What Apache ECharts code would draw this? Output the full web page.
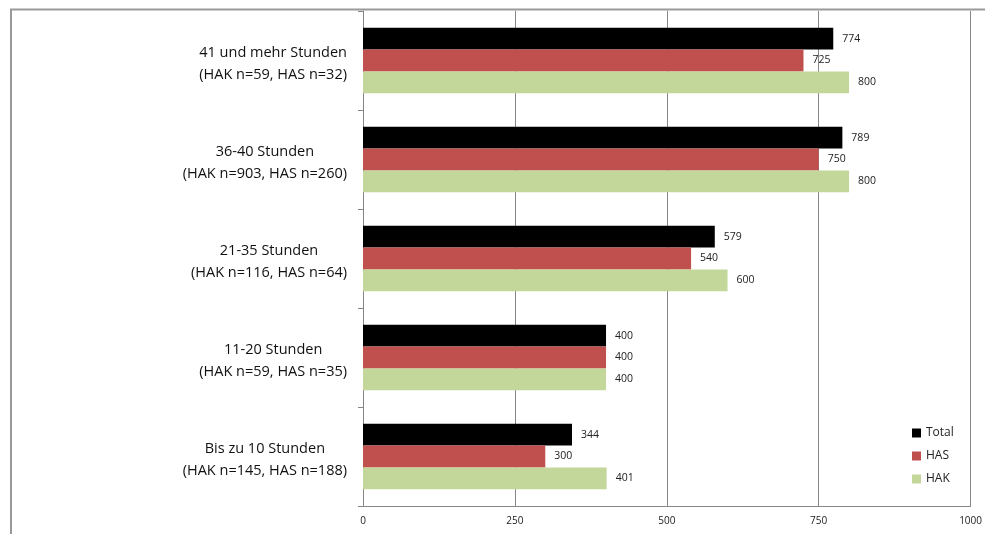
<!DOCTYPE html>
<html><head><meta charset="utf-8">
<script src="https://cdn.jsdelivr.net/npm/echarts@6/dist/echarts.min.js"></script>
<style>html,body{margin:0;padding:0;background:#fff}#c{width:985px;height:534px}</style>
</head><body><div id="c"></div>
<script>
const categories = ["Bis zu 10 Stunden\n(HAK n=145, HAS n=188)","11-20 Stunden\n(HAK n=59, HAS n=35)","21-35 Stunden\n(HAK n=116, HAS n=64)","36-40 Stunden\n(HAK n=903, HAS n=260)","41 und mehr Stunden\n(HAK n=59, HAS n=32)"];
const totalValues = [344, 400, 579, 789, 774];
const hasValues = [300, 400, 540, 750, 725];
const hakValues = [401, 400, 600, 800, 800];
const seriesNames = ["Total","HAS","HAK"];
const colors = ["#000000","#C0504D","#C4D79B"];
const chart = echarts.init(document.getElementById('c'));
const lbl = {show:true, position:'right', distance:9, fontSize:10.5, color:'#222', fontFamily:'Open Sans'};
chart.setOption({
  animation:false,
  graphic:[{type:'polyline', shape:{points:[[11,540],[11,9.5],[990,9.5]]}, style:{stroke:'#999',lineWidth:2,fill:null}}],
  grid:{left:363,right:14,top:11,bottom:28},
  legend:{orient:'vertical',left:907,top:422,itemWidth:9,itemHeight:9,itemGap:11,icon:'rect',
    textStyle:{fontSize:12,color:'#222',fontFamily:'Open Sans'},data:seriesNames},
  xAxis:{type:'value',min:0,max:1000,interval:250,
    axisLine:{show:true,lineStyle:{color:'#868686'}},axisTick:{show:false},
    splitLine:{lineStyle:{color:'#868686'}},
    axisLabel:{fontSize:10,color:'#222',margin:10,fontFamily:'Open Sans',formatter:v=>String(v)}},
  yAxis:{type:'category',data:categories,
    axisLine:{lineStyle:{color:'#868686'}},axisTick:{show:true,length:5,lineStyle:{color:'#868686'}},
    axisLabel:{margin:16,align:'right',padding:[6,0,0,0],
      formatter:v=>v.split('\n').map(s=>'{a|'+s+'}').join('\n'),
      rich:{a:{fontSize:14.5,color:'#111',lineHeight:22,align:'center',fontFamily:'Open Sans'}}}},
  series:[
    {name:seriesNames[0],type:'bar',data:totalValues,itemStyle:{color:colors[0]},label:lbl,barGap:'0%',barCategoryGap:'34%'},
    {name:seriesNames[1],type:'bar',data:hasValues,itemStyle:{color:colors[1]},label:lbl,barGap:'0%',barCategoryGap:'34%'},
    {name:seriesNames[2],type:'bar',data:hakValues,itemStyle:{color:colors[2]},label:lbl,barGap:'0%',barCategoryGap:'34%'}
  ]
});
</script></body></html>
